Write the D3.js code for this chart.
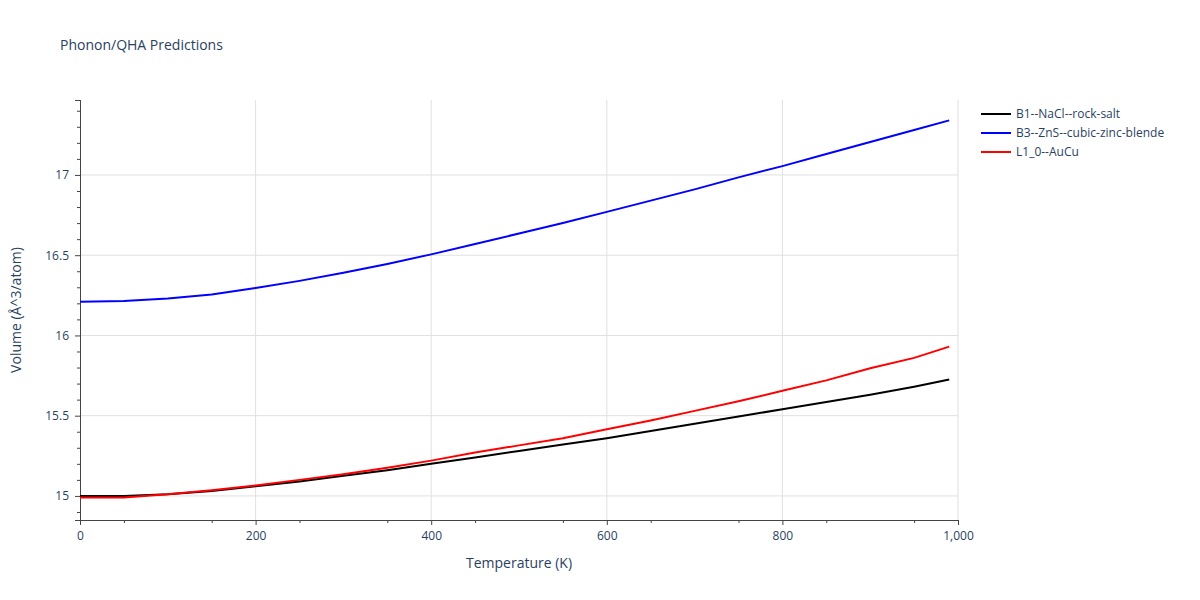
<!DOCTYPE html>
<html><head><meta charset="utf-8">
<script src="https://cdn.jsdelivr.net/npm/d3@7"></script>
<style>body{margin:0;background:#fff}text{font-family:"Open Sans",sans-serif}</style>
</head><body><svg id="c" width="1200" height="600"></svg>
<script>
const temps=[0,50,100,150,200,250,300,350,400,450,500,550,600,650,700,750,800,850,900,950,990];
const b1=[15.0,15.0,15.01,15.03,15.06,15.09,15.125,15.16,15.2,15.24,15.28,15.32,15.36,15.405,15.45,15.495,15.54,15.585,15.63,15.68,15.725];
const b3=[16.21,16.215,16.23,16.255,16.295,16.34,16.39,16.445,16.505,16.57,16.635,16.7,16.77,16.84,16.91,16.985,17.055,17.13,17.205,17.28,17.34];
const l10=[14.99,14.99,15.01,15.035,15.065,15.1,15.135,15.175,15.22,15.27,15.315,15.36,15.415,15.47,15.53,15.59,15.655,15.72,15.795,15.86,15.93];
const seriesNames=["B1--NaCl--rock-salt","B3--ZnS--cubic-zinc-blende","L1_0--AuCu"];
const colors=["#000000","#0000ff","#ff0000"];
const xTicks=[0,200,400,600,800,1000];
const yTicks=[15,15.5,16,16.5,17];
const L=80,R=958,T=100,B=520;
const svg=d3.select("#c");
const x=d3.scaleLinear().domain([0,1000]).range([L,R]);
const y=d3.scaleLinear().domain([14.85,17.467]).range([B,T]);
const g=svg.append("g");
g.selectAll(".gx").data(xTicks.slice(1)).join("line").attr("x1",d=>x(d)).attr("x2",d=>x(d)).attr("y1",T).attr("y2",B).attr("stroke","#e0e0e0");
g.selectAll(".gy").data(yTicks).join("line").attr("x1",L).attr("x2",R).attr("y1",d=>y(d)).attr("y2",d=>y(d)).attr("stroke","#e0e0e0");
// axes
const xa=svg.append("g").attr("transform",`translate(0,${B})`).call(d3.axisBottom(x).tickValues(xTicks).tickSize(5).tickPadding(6));
svg.append("g").attr("transform",`translate(0,${B})`).call(d3.axisBottom(x).tickValues(d3.range(50,1000,100)).tickSize(3).tickFormat(""));
const ya=svg.append("g").attr("transform",`translate(${L},0)`).call(d3.axisLeft(y).tickValues(yTicks).tickSize(5).tickPadding(6).tickFormat(d3.format("")));
svg.append("g").attr("transform",`translate(${L},0)`).call(d3.axisLeft(y).tickValues(d3.range(14.9,17.45,0.1).filter(v=>Math.abs(v*2-Math.round(v*2))>0.01)).tickSize(3).tickFormat(""));
svg.selectAll(".domain").attr("stroke","#444");
svg.selectAll(".tick line").attr("stroke","#444");
svg.selectAll(".tick text").attr("fill","#2a3f5f").style("font-size","12px");
const line=d3.line().x((d,i)=>x(temps[i])).y(d=>y(d));
[b1,b3,l10].forEach((s,i)=>svg.append("path").datum(s).attr("d",line).attr("fill","none").attr("stroke",colors[i]).attr("stroke-width",2));
svg.append("text").attr("x",60).attr("y",50).attr("fill","#2a3f5f").style("font-size","14px").text("Phonon/QHA Predictions");
svg.append("text").attr("x",(L+R)/2).attr("y",568).attr("text-anchor","middle").attr("fill","#2a3f5f").style("font-size","14px").text("Temperature (K)");
svg.append("text").attr("transform",`translate(21,${(T+B)/2}) rotate(-90)`).attr("text-anchor","middle").attr("fill","#2a3f5f").style("font-size","14px").text("Volume (Å^3/atom)");
seriesNames.forEach((n,i)=>{const yy=114+i*19;
svg.append("line").attr("x1",981).attr("x2",1011).attr("y1",yy).attr("y2",yy).attr("stroke",colors[i]).attr("stroke-width",2);
svg.append("text").attr("x",1016).attr("y",yy+4).attr("fill","#2a3f5f").style("font-size","12px").text(n);});
</script></body></html>
